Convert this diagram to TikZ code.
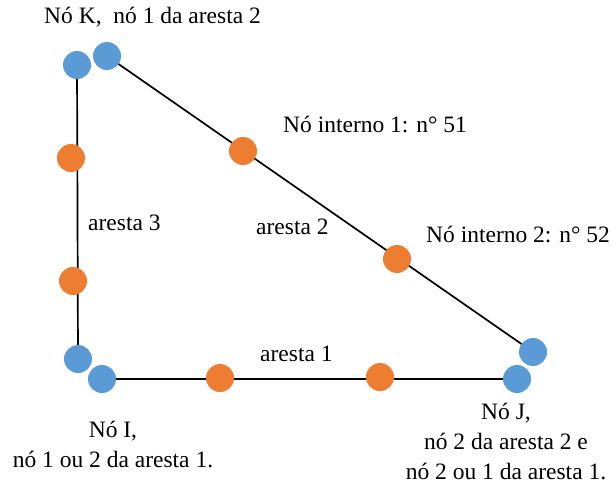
\documentclass[tikz,border=0pt]{standalone}
\usepackage{fontspec}
\setmainfont{Liberation Serif}
\usetikzlibrary{backgrounds}
\definecolor{azulno}{HTML}{5B9BD5}
\definecolor{laranjano}{HTML}{ED7D31}
\begin{document}
\begin{tikzpicture}[x=1pt, y=-1pt,
    vertice/.style={circle, fill=azulno, inner sep=0pt, minimum size=28pt},
    interno/.style={circle, fill=laranjano, inner sep=0pt, minimum size=28pt},
    aresta/.style={line width=1.7pt},
    rotulo/.style={font=\fontsize{23.5}{30}\selectfont, inner sep=0pt}]
  \useasboundingbox (0,0) rectangle (613,488);
  % Corner nodes
  \node[vertice] (K1) at (77,65) {};
  \node[vertice] (K2) at (107,56) {};
  \node[vertice] (I1) at (78,359) {};
  \node[vertice] (I2) at (102,379) {};
  \node[vertice] (J1) at (533,352) {};
  \node[vertice] (J2) at (517,379) {};
  % Internal nodes
  \foreach \n/\x/\y in {a3n1/71/158, a3n2/73/281, a2n1/243/151,
                        a2n2/397/259, a1n1/220/378, a1n2/380/377} {
    \node[interno] (\n) at (\x,\y) {};
  }
  % Edges
  \begin{pgfonlayer}{background}
    \draw[aresta] (K1.center) -- (I1.center);
    \draw[aresta] (K2.center) -- (J1.center);
    \draw[aresta] (I2.center) -- (J2.center);
  \end{pgfonlayer}
  % Labels
  \node[rotulo, anchor=base west] (rK) at (44,23) {Nó K,\ \ nó 1 da aresta 2};
  \node[rotulo, anchor=base west] (r51) at (283,132) {Nó interno 1: n° 51};
  \node[rotulo, anchor=base west] (r52) at (426,242) {Nó interno 2: n° 52};
  \node[rotulo, anchor=base west] (ra3) at (88,230) {aresta 3};
  \node[rotulo, anchor=base west] (ra2) at (256,234) {aresta 2};
  \node[rotulo, anchor=base west] (ra1) at (260,361) {aresta 1};
  \node[rotulo, anchor=base, align=center] (rI) at (113,467)
    {Nó I,\\nó 1 ou 2 da aresta 1.};
  \node[rotulo, anchor=base, align=center] (rJ) at (506,479)
    {Nó J,\\nó 2 da aresta 2 e\\nó 2 ou 1 da aresta 1.};
\end{tikzpicture}
\end{document}
